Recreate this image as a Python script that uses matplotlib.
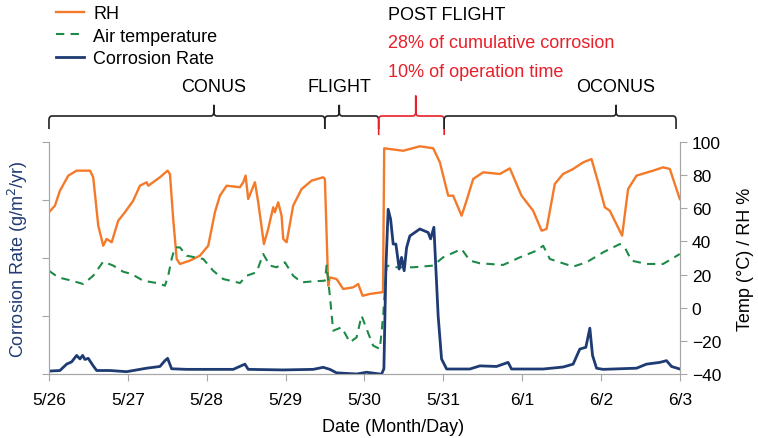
import matplotlib
matplotlib.use("Agg")
import matplotlib.pyplot as plt
import matplotlib.transforms as mtransforms
from matplotlib.path import Path
from matplotlib.patches import PathPatch

plt.rcParams['font.family'] = ['Liberation Sans', 'DejaVu Sans']

# days since 5/26 00:00
rh_day = [0.0, 0.076, 0.139, 0.245, 0.351, 0.52, 0.561, 0.625, 0.688, 0.731, 0.795, 0.878,
          0.963, 1.068, 1.153, 1.238, 1.259, 1.407, 1.504, 1.534, 1.575, 1.619, 1.66, 1.787,
          1.914, 2.019, 2.104, 2.167, 2.252, 2.421, 2.463, 2.493, 2.526, 2.611, 2.653, 2.725,
          2.779, 2.843, 2.864, 2.906, 2.949, 2.97, 3.013, 3.096, 3.203, 3.33, 3.477, 3.498,
          3.54, 3.561, 3.646, 3.73, 3.857, 3.92, 3.976, 4.068, 4.217, 4.235, 4.25, 4.49,
          4.702, 4.871, 4.956, 5.061, 5.124, 5.231, 5.294, 5.378, 5.505, 5.716, 5.843, 5.991,
          6.138, 6.245, 6.308, 6.413, 6.518, 6.645, 6.772, 6.878, 6.962, 7.047, 7.11, 7.266,
          7.342, 7.449, 7.659, 7.786, 7.871, 7.997]
rh = [57.6, 61.6, 70.6, 79.7, 82.7, 82.7, 78.7, 49.5, 37.4, 41.5, 39.5, 52.5,
      57.6, 64.6, 73.6, 75.7, 73.6, 78.7, 82.7, 80.6, 53.5, 29.4, 26.4, 28.4,
      31.4, 37.4, 57.6, 67.6, 73.6, 72.7, 75.7, 79.7, 65.6, 75.7, 63.6, 38.4,
      47.5, 60.6, 57.6, 63.6, 55.5, 41.5, 39.5, 61.6, 71.6, 76.7, 78.7, 77.7,
      13.3, 18.3, 17.3, 11.3, 12.3, 14.3, 7.2, 8.3, 9.3, 9.3, 96.2, 94.7,
      97.4, 96.2, 87.7, 67.6, 67.6, 55.5, 64.6, 77.7, 81.7, 80.7, 84.1, 67.6,
      58.5, 46.5, 47.5, 74.7, 80.7, 83.7, 87.7, 89.7, 75.7, 60.6, 58.5, 43.5,
      71.6, 79.7, 82.7, 84.7, 83.7, 65.6]

temp_day = [0.0, 0.118, 0.288, 0.435, 0.561, 0.688, 0.815, 0.942, 1.048, 1.195, 1.365, 1.47,
            1.512, 1.555, 1.597, 1.66, 1.745, 1.956, 2.082, 2.209, 2.421, 2.506, 2.632, 2.716,
            2.801, 2.886, 2.991, 3.096, 3.203, 3.35, 3.498, 3.52, 3.561, 3.603, 3.71, 3.815,
            3.9, 3.963, 4.027, 4.11, 4.195, 4.237, 4.28, 4.407, 4.617, 4.871, 4.997, 5.231,
            5.336, 5.463, 5.758, 5.97, 6.181, 6.265, 6.35, 6.477, 6.645, 6.815, 7.025, 7.237,
            7.3, 7.385, 7.575, 7.786, 7.892, 7.997]
temp = [22.3, 18.3, 16.3, 14.3, 19.3, 27.8, 25.4, 21.7, 20.3, 16.3, 14.9, 13.3,
        19.3, 29.4, 36.4, 36.4, 31.4, 29.4, 22.3, 17.3, 14.9, 19.3, 21.4, 32.4,
        25.4, 24.4, 27.4, 19.3, 15.3, 15.9, 16.3, 25.4, 7.2, -13.9, -11.8, -20.9,
        -17.9, -4.8, -12.9, -22.9, -24.9, -4.8, 25.4, 24.4, 24.4, 25.4, 30.4, 35.4,
        28.4, 26.8, 25.8, 30.4, 34.4, 37.4, 29.4, 27.4, 24.8, 27.4, 33.4, 38.4,
        36.4, 28.4, 26.4, 26.4, 29.4, 32.4]

corr_day = [0.0, 0.139, 0.224, 0.288, 0.351, 0.393, 0.427, 0.456, 0.498, 0.561, 0.605, 0.773,
            0.985, 1.238, 1.407, 1.47, 1.504, 1.555, 1.745, 2.336, 2.484, 2.526, 2.97, 3.35,
            3.477, 3.561, 3.646, 3.9, 4.027, 4.195, 4.217, 4.246, 4.271, 4.3, 4.331, 4.364,
            4.398, 4.44, 4.47, 4.503, 4.534, 4.575, 4.702, 4.807, 4.838, 4.88, 4.934, 4.977,
            5.041, 5.336, 5.463, 5.674, 5.821, 5.864, 6.265, 6.518, 6.645, 6.73, 6.806, 6.857,
            6.891, 6.942, 7.025, 7.449, 7.575, 7.744, 7.829, 7.892, 7.997]
corr = [0.05, 0.06, 0.17, 0.21, 0.32, 0.26, 0.32, 0.25, 0.27, 0.14, 0.06, 0.06,
        0.04, 0.10, 0.13, 0.23, 0.27, 0.09, 0.08, 0.08, 0.17, 0.08, 0.07, 0.08,
        0.115, 0.08, 0.02, 0.0, 0.03, 0.0, 0.0, 0.09, 1.81, 2.84, 2.67, 2.24,
        2.24, 1.81, 2.01, 1.78, 2.18, 2.38, 2.5, 2.44, 2.33, 2.53, 1.0, 0.26,
        0.086, 0.086, 0.14, 0.13, 0.2, 0.086, 0.086, 0.12, 0.17, 0.43, 0.46, 0.79,
        0.32, 0.1, 0.08, 0.1, 0.17, 0.2, 0.23, 0.13, 0.086]

date_labels = ['5/26', '5/27', '5/28', '5/29', '5/30', '5/31', '6/1', '6/2', '6/3']

# phases: (start, end, tip, label, colour)
phases = [(0.0, 3.497, 2.09, 'CONUS', 'black'),
          (3.497, 4.18, 3.68, 'FLIGHT', 'black'),
          (4.18, 5.01, 4.65, None, '#E8202A'),
          (5.01, 7.95, 7.19, 'OCONUS', 'black')]

orange = '#F47A2A'
green = '#1E8A48'
navy = '#1F3B73'
grey = '#A6A6A6'
fs = 13

fig = plt.figure(figsize=(7.58, 4.39), dpi=100)
ax = fig.add_axes([0.0646, 0.1458, 0.8325, 0.5285])
ax2 = ax.twinx()
ax.set_zorder(ax2.get_zorder() + 1)
ax.patch.set_visible(False)

l3, = ax.plot(corr_day, corr, color=navy, lw=2.0, label='Corrosion Rate')
l1, = ax2.plot(rh_day, rh, color=orange, lw=1.7, label='RH')
l2, = ax2.plot(temp_day, temp, color=green, lw=1.5, ls=(0, (4, 3)), label='Air temperature')

ax.set_xlim(0, 8)
ax.set_ylim(0, 4)
ax2.set_ylim(-40, 100)
ax.set_xticks(range(9))
ax.set_xticklabels(date_labels)
ax.set_yticks(range(5))
ax.set_yticklabels([])
ax2.set_yticks(range(-40, 101, 20))

for a in (ax, ax2):
    a.spines['top'].set_visible(False)
    for s in ('left', 'right', 'bottom'):
        a.spines[s].set_color(grey)
    a.tick_params(colors=grey, labelcolor='black', labelsize=12.5, length=5)
ax.tick_params(axis='x', pad=8)

ax.set_xlabel('Date (Month/Day)', fontsize=fs)
ax.xaxis.set_label_coords(0.545, -0.19)
ax.set_ylabel('Corrosion Rate (g/m$^2$/yr)', fontsize=fs, color=navy)
ax.yaxis.set_label_coords(-0.03, 0.5)
ax2.set_ylabel('Temp (°C) / RH %', fontsize=fs)
ax2.yaxis.set_label_coords(1.09, 0.5)


def brace(x0, x1, xt, color, y_line, y_end, y_tip):
    trans = mtransforms.blended_transform_factory(ax.transData, ax.transAxes)
    rx = 0.04
    ry = 0.018
    verts = [(x0, y_end), (x0, y_line - ry), (x0, y_line), (x0 + rx, y_line),
             (xt - rx, y_line), (xt, y_line), (xt, y_line + ry), (xt, y_tip),
             (xt, y_line + ry), (xt, y_line), (xt + rx, y_line),
             (x1 - rx, y_line), (x1, y_line), (x1, y_line - ry), (x1, y_end)]
    codes = [Path.MOVETO, Path.LINETO, Path.CURVE3, Path.CURVE3,
             Path.LINETO, Path.CURVE3, Path.CURVE3, Path.LINETO,
             Path.LINETO, Path.CURVE3, Path.CURVE3,
             Path.LINETO, Path.CURVE3, Path.CURVE3, Path.LINETO]
    p = PathPatch(Path(verts, codes), transform=trans, fill=False,
                  edgecolor=color, lw=1.2, clip_on=False)
    ax.add_patch(p)


trans_top = mtransforms.blended_transform_factory(ax.transData, ax.transAxes)
for x0, x1, xt, lab, col in phases:
    if col == 'black':
        brace(x0, x1, xt, '#222222', 1.112, 1.056, 1.16)
    else:
        brace(x0, x1, xt, col, 1.112, 1.03, 1.2)
    if lab:
        ax.text(xt, 1.241, lab, transform=trans_top, ha='center', va='center', fontsize=fs)

fig.text(388 / 758, 1 - 15 / 439, 'POST FLIGHT', fontsize=fs, va='center')
fig.text(388 / 758, 1 - 44 / 439, '28% of cumulative corrosion', fontsize=fs,
         va='center', color='#E8202A')
fig.text(388 / 758, 1 - 73 / 439, '10% of operation time', fontsize=fs,
         va='center', color='#E8202A')

fig.legend(handles=[l1, l2, l3], loc='upper left', bbox_to_anchor=(0.053, 1.023),
           frameon=False, fontsize=fs, handlelength=1.5, labelspacing=0.3,
           handletextpad=0.55)

fig.savefig('out.png', dpi=100)
